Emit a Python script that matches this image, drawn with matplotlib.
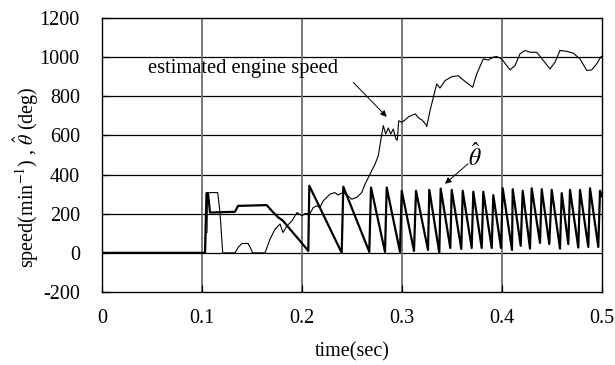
import matplotlib
matplotlib.use("Agg")
import matplotlib.pyplot as plt

plt.rcParams['font.family'] = ['Liberation Serif', 'DejaVu Serif']
plt.rcParams['mathtext.fontset'] = 'stix'

# estimated engine speed (min^-1)
speed_t = [0, 0.1035, 0.1037, 0.105, 0.1055, 0.1157, 0.118, 0.1207, 0.133, 0.1365, 0.14, 0.146, 0.149, 0.1505,
           0.163, 0.168, 0.173, 0.178, 0.181, 0.185, 0.19, 0.195, 0.2, 0.203, 0.208, 0.2113, 0.2147, 0.218, 0.2213,
           0.2247, 0.228, 0.233, 0.236, 0.241, 0.2447, 0.2497, 0.2547, 0.2597, 0.263, 0.268, 0.273, 0.2763, 0.2787,
           0.2813, 0.2837, 0.2863, 0.2887, 0.2913, 0.294, 0.2953, 0.2967, 0.3, 0.303, 0.3067, 0.3133, 0.3167, 0.32,
           0.324, 0.3247, 0.328, 0.3347, 0.338, 0.343, 0.3497, 0.3563, 0.3613, 0.3663, 0.3707, 0.3747, 0.3813,
           0.3863, 0.3913, 0.3947, 0.3997, 0.4047, 0.408, 0.413, 0.418, 0.423, 0.428, 0.4347, 0.4413, 0.448, 0.453,
           0.458, 0.4647, 0.4713, 0.478, 0.4847, 0.4897, 0.4947, 0.4987, 0.5]
speed_v = [0, 0, 104, 104, 308, 308, 206, 0, 0, 30, 48, 48, 20, 0,
           0, 70, 121, 147, 104, 138, 164, 206, 189, 201, 201, 232, 240, 232, 266,
           283, 300, 308, 296, 308, 296, 274, 283, 308, 351, 402, 453, 496, 573,
           650, 607, 638, 607, 633, 581, 576, 675, 667, 679, 696, 710, 689, 679,
           655, 645, 726, 863, 842, 880, 900, 905, 883, 863, 846, 914, 991,
           985, 1000, 1003, 991, 957, 935, 957, 1017, 1034, 1025, 1025, 983, 940, 974,
           1034, 1030, 1020, 991, 932, 935, 966, 1000, 1005]

# estimated crank angle theta-hat (deg)
theta_t = [0, 0.103, 0.1045, 0.106, 0.108, 0.133, 0.136, 0.1647, 0.1697, 0.1763, 0.181, 0.188, 0.198, 0.2063,
           0.2073, 0.2397, 0.2413, 0.2673, 0.269, 0.283, 0.2847, 0.298, 0.2997, 0.312, 0.314, 0.326, 0.3273,
           0.3373, 0.3387, 0.3483, 0.3497, 0.3593, 0.3607, 0.3697, 0.3713, 0.3797, 0.3813, 0.3897, 0.3913,
           0.399, 0.4007, 0.41, 0.4107, 0.4187, 0.4207, 0.428, 0.4297, 0.438, 0.4397, 0.4473, 0.4497, 0.458,
           0.4597, 0.4663, 0.468, 0.4763, 0.478, 0.4863, 0.488, 0.4963, 0.498, 0.5]
theta_v = [0, 0, 305, 305, 206, 210, 240, 244, 215, 181, 164, 121, 61, 10,
           343, 0, 338, 5, 334, 5, 334, 5, 317, 10, 317, 15, 322,
           0, 328, 25, 322, 20, 317, 25, 312, 25, 312, 25, 295,
           25, 330, 15, 325, 36, 317, 22, 330, 51, 325, 45, 322, 22,
           305, 45, 322, 27, 322, 30, 330, 30, 317, 290]

x_ticks = [0, 0.1, 0.2, 0.3, 0.4, 0.5]
x_labels = ["0", "0.1", "0.2", "0.3", "0.4", "0.5"]
y_ticks = [-200, 0, 200, 400, 600, 800, 1000, 1200]

W, H = 615, 365
fig = plt.figure(figsize=(W / 100, H / 100), dpi=100)
ax = fig.add_axes([102 / W, 1 - 292 / H, 500 / W, 274 / H])

ax.set_xlim(0, 0.5)
ax.set_ylim(-200, 1200)
ax.set_xticks(x_ticks)
ax.set_xticklabels(x_labels)
ax.set_yticks(y_ticks)
ax.set_yticklabels([str(v) for v in y_ticks])

for v in y_ticks[1:-1]:
    ax.axhline(v, color='black', lw=0.9, zorder=1)
for v in x_ticks[1:-1]:
    ax.axvline(v, color='#707070', lw=1.3, zorder=1)

ax.plot(speed_t, speed_v, color='black', lw=0.8, zorder=3)
ax.plot(theta_t, theta_v, color='black', lw=1.6, zorder=2)

for s in ax.spines.values():
    s.set_color('black')
    s.set_linewidth(1.0)

ax.tick_params(direction='in', length=5, width=0.9, labelsize=14.5, colors='black')
ax.tick_params(axis='y', pad=16)
ax.tick_params(axis='x', pad=12)

arrow = dict(arrowstyle='-|>', color='black', lw=0.7, mutation_scale=9, shrinkA=0, shrinkB=0)
ax.text(0.1405, 941, "estimated engine speed", ha='center', va='center', fontsize=14.8)
ax.annotate("", xy=(0.2847, 695), xytext=(0.2513, 871), arrowprops=arrow)
ax.annotate("", xy=(0.343, 353), xytext=(0.366, 455), arrowprops=arrow)
ax.text(0.373, 490, r"$\hat{\theta}$", fontsize=17, ha='center', va='center')

fig.text(352 / W, 1 - 352 / H, "time(sec)", ha='center', va='center', fontsize=14.5)
fig.text(26 / W, 1 - 177 / H, r"speed(min$^{-1}$) , $\hat{\theta}$ (deg)", rotation=90,
         ha='center', va='center', fontsize=14.5)

fig.savefig("out.png", dpi=100)
